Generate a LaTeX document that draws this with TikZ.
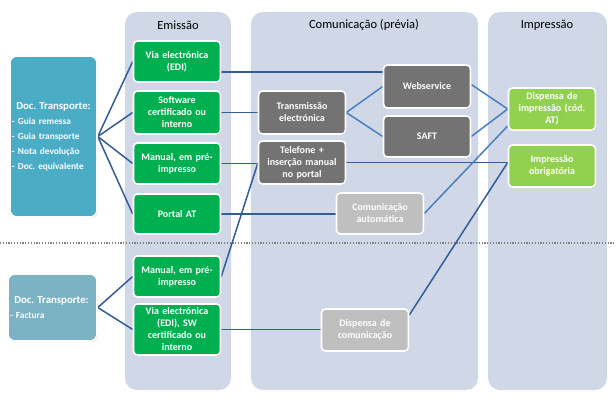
\documentclass[tikz,border=0pt]{standalone}
\usepackage{fontspec}
\setmainfont{Carlito}
\usetikzlibrary{shadows}
\definecolor{panel}{RGB}{208,216,232}
\definecolor{dtone}{RGB}{75,172,198}
\definecolor{dttwo}{RGB}{123,178,196}
\definecolor{gA}{RGB}{0,176,80}
\definecolor{gB}{RGB}{146,208,80}
\definecolor{grD}{RGB}{115,115,115}
\definecolor{grL}{RGB}{191,191,191}
\definecolor{lnA}{RGB}{52,92,152}
\definecolor{lnB}{RGB}{74,126,190}
\pgfdeclarelayer{bg}
\pgfdeclarelayer{lines}
\pgfsetlayers{bg,lines,main}
\tikzset{
  panelbox/.style={fill=panel, rounded corners=12pt},
  coltitle/.style={font=\fontsize{12.5}{14}\selectfont, text=black, inner sep=0pt},
  box/.style={draw=white, line width=1.6pt, rounded corners=4pt, text=white,
    font=\bfseries\fontsize{10}{12}\selectfont, align=center, inner sep=1pt,
    minimum width=86.5pt, text width=85pt,
    drop shadow={shadow xshift=0.9pt, shadow yshift=-0.9pt, opacity=0.3}},
  gbox/.style={box, fill=gA},
  lgbox/.style={box, fill=gB},
  dgbox/.style={box, fill=grD},
  lgrbox/.style={box, fill=grL},
  docbox/.style={draw=white, line width=1.6pt, rounded corners=7pt, text=white,
    font=\bfseries\fontsize{9.3}{15}\selectfont, align=left, inner xsep=2pt,
    drop shadow={shadow xshift=1pt, shadow yshift=-1pt, opacity=0.3}},
  conn/.style={draw=lnA, line width=1.5pt},
  connb/.style={draw=lnB, line width=1.5pt},
  sepline/.style={draw=gray, line width=1.1pt, dash pattern=on 1.1pt off 1.7pt}
}
\frenchspacing
\begin{document}
\begin{tikzpicture}[x=1pt,y=-1pt]
\useasboundingbox (0,0) rectangle (616,402);
% panels
\begin{pgfonlayer}{bg}
\fill[panelbox] (125,12) rectangle (231,390);
\fill[panelbox] (251,12) rectangle (478,390);
\fill[panelbox] (488,12) rectangle (607,390);
\end{pgfonlayer}
% titles
\node[coltitle] (tE) at (178,25) {Emissão};
\node[coltitle] (tC) at (364,25) {Comunicação (prévia)};
\node[coltitle] (tI) at (547,25) {Impressão};
% doc boxes
\node[docbox, fill=dtone, text width=83pt, minimum height=161pt] (dt1) at (53.5,136.5)
  {\makebox[83pt][c]{\fontsize{10.8}{15}\selectfont Doc. Transporte:}\\
   - Guia remessa\\ - Guia transporte\\ - Nota devolução\\ - Doc. equivalente};
\node[docbox, fill=dttwo, text width=85pt, minimum height=67pt] (dt2) at (52.5,307.5)
  {\makebox[83pt][c]{\fontsize{10.8}{15}\selectfont Doc. Transporte:}\\
   \fontsize{9.3}{13}\selectfont - Factura};
% emissao
\node[gbox, minimum height=41pt] (g1) at (177,61.5) {Via electrónica\\(EDI)};
\node[gbox, minimum height=43pt] (g2) at (177,112.5) {Software\\certificado ou\\interno};
\node[gbox, minimum height=41pt] (g3) at (177,163.5) {Manual, em pré-\\impresso};
\node[gbox, minimum height=40pt] (g4) at (177,214) {Portal AT};
\node[gbox, minimum height=41pt] (g5) at (177,276.5) {Manual, em pré-\\impresso};
\node[gbox, minimum height=51pt] (g6) at (177,329.5) {Via electrónica\\(EDI), SW\\certificado ou\\interno};
% comunicacao
\node[dgbox, minimum height=43pt] (tr) at (302,112.5) {Transmissão\\electrónica};
\node[dgbox, minimum height=43pt] (tel) at (302,162.5) {Telefone +\\inserção manual\\no portal};
\node[dgbox, minimum height=43pt] (ws) at (427,86.5) {Webservice};
\node[dgbox, minimum height=41pt] (saft) at (427,136.5) {SAFT};
\node[lgrbox, minimum height=41pt] (ca) at (380,213.5) {Comunicação\\automática};
\node[lgrbox, minimum height=42pt] (dc) at (365,330) {Dispensa de\\comunicação};
% impressao
\node[lgbox, minimum height=42pt] (di) at (552,109) {Dispensa de\\impressão (cód.\\AT)};
\node[lgbox, minimum height=42pt] (io) at (552,166) {Impressão\\obrigatória};
% connectors
\begin{pgfonlayer}{lines}
\coordinate (sepL) at (0,243);
\coordinate (sepR) at (616,243);
\draw[sepline] (sepL) -- (sepR);
\draw[conn] (dt1.east) -- (g1.west);
\draw[conn] (dt1.east) -- (g2.west);
\draw[conn] (dt1.east) -- (g3.west);
\draw[conn] (dt1.east) -- (g4.west);
\draw[conn] (dt2.east) -- (g5.west);
\draw[conn] (dt2.east) -- (g6.west);
\draw[conn] ([yshift=-10.5pt]g1.east) coordinate (p1) -- (p1 -| ws.west);
\draw[conn] (g2.east) -- (g2.east -| tr.west);
\draw[conn] (g3.east) -- (g3.east -| tel.west);
\draw[conn] (g4.east) -- (g4.east -| ca.west);
\draw[conn] (g5.east) -- (g3.east -| tel.west);
\draw[conn] (g6.east) -- (g6.east -| dc.west);
\draw[connb] (tr.east) -- (ws.west);
\draw[connb] (tr.east) -- (saft.west);
\draw[connb] ([yshift=2pt]ws.east) -- (di.west);
\draw[connb] (saft.east) -- (di.west);
\draw[conn] (tel.east) -- (tel.east -| io.west);
\draw[connb] (ca.east) -- ([yshift=-17pt]di.west);
\draw[conn] ([yshift=15pt]dc.east) -- (tel.east -| io.west);
\end{pgfonlayer}
\end{tikzpicture}
\end{document}
